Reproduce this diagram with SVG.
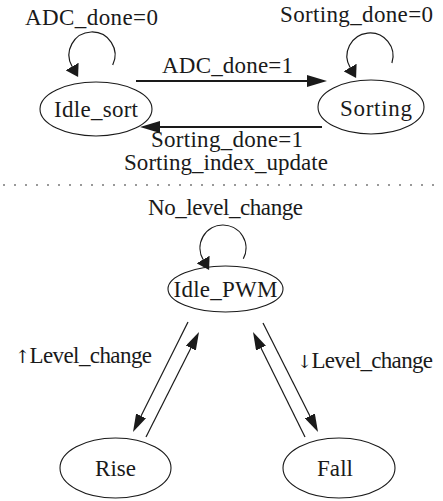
<svg xmlns="http://www.w3.org/2000/svg" width="443" height="501" viewBox="0 0 443 501">
<style>
text{font-family:'Liberation Serif','Times New Roman',serif;font-size:23px;fill:#1a1a1a;text-anchor:middle}
.arr{font-family:'DejaVu Serif','DejaVu Sans',serif;font-size:18px}
.node ellipse{fill:none;stroke:#1a1a1a;stroke-width:1.1}
.edge{fill:none;stroke:#1a1a1a}
.thick{stroke-width:2.2}
.thin{stroke-width:1.2}
.dots{stroke:#999;stroke-width:2;stroke-dasharray:2 9}
</style>
<defs>
<marker id="big" markerUnits="userSpaceOnUse" markerWidth="20" markerHeight="12" refX="0" refY="6" orient="auto"><path d="M0,0 L20,6 L0,12 z" fill="#1a1a1a"/></marker>
<marker id="mid" markerUnits="userSpaceOnUse" markerWidth="18" markerHeight="11" refX="0" refY="5.5" orient="auto"><path d="M0,0 L18,5.5 L0,11 z" fill="#1a1a1a"/></marker>
<marker id="small" markerUnits="userSpaceOnUse" markerWidth="12" markerHeight="15" refX="0" refY="7.5" orient="auto"><path d="M0,0 L12,7.5 L0,15 z" fill="#1a1a1a"/></marker>
</defs>
<line class="dots" x1="3" y1="185" x2="443" y2="185"/>
<g id="Idle_sort" class="node"><ellipse cx="96" cy="109" rx="56" ry="27"/><text x="96" y="117" textLength="84">Idle_sort</text></g>
<g id="Sorting" class="node"><ellipse cx="371" cy="107" rx="53" ry="27"/><text x="376" y="116" textLength="72">Sorting</text></g>
<g id="Idle_PWM" class="node"><ellipse cx="225.5" cy="289" rx="57.5" ry="23"/><text x="225.5" y="297" textLength="104">Idle_PWM</text></g>
<g id="Rise" class="node"><ellipse cx="115.5" cy="468" rx="55.5" ry="30"/><text x="115.5" y="476" textLength="41">Rise</text></g>
<g id="Fall" class="node"><ellipse cx="339" cy="468" rx="56" ry="30"/><text x="335" y="476" textLength="36">Fall</text></g>
<g id="connectors">
<path class="edge thin" d="M112.7,65 A23,23 0 1 0 72.1,66.5" marker-end="url(#small)"/>
<path class="edge thin" d="M391.9,63 A23,23 0 1 0 350.1,67.5" marker-end="url(#small)"/>
<path class="edge thin" d="M243.3,258.8 A23,23 0 1 0 203.1,259.5" marker-end="url(#small)"/>
<line class="edge thick" x1="136" y1="81" x2="307" y2="81" marker-end="url(#big)"/>
<line class="edge thick" x1="322" y1="127" x2="160" y2="127" marker-end="url(#big)"/>
<line class="edge thin" x1="188" y1="322" x2="141.05" y2="415.9" marker-end="url(#mid)"/>
<line class="edge thin" x1="146" y1="437" x2="190.9" y2="348.1" marker-end="url(#mid)"/>
<line class="edge thin" x1="263" y1="323" x2="309.9" y2="415.9" marker-end="url(#mid)"/>
<line class="edge thin" x1="305" y1="437" x2="261" y2="348.1" marker-end="url(#mid)"/>
<text x="91.5" y="25" textLength="133">ADC_done=0</text>
<text x="356.5" y="22" textLength="153">Sorting_done=0</text>
<text x="227.5" y="73" textLength="131">ADC_done=1</text>
<text x="227" y="147" textLength="152">Sorting_done=1</text>
<text x="226" y="170" textLength="204">Sorting_index_update</text>
<text x="225.5" y="215" textLength="155">No_level_change</text>
<text x="83.5" y="363" textLength="137"><tspan class="arr">↑</tspan>Level_change</text>
<text x="365" y="368" textLength="136"><tspan class="arr">↓</tspan>Level_change</text>
</g>
</svg>
